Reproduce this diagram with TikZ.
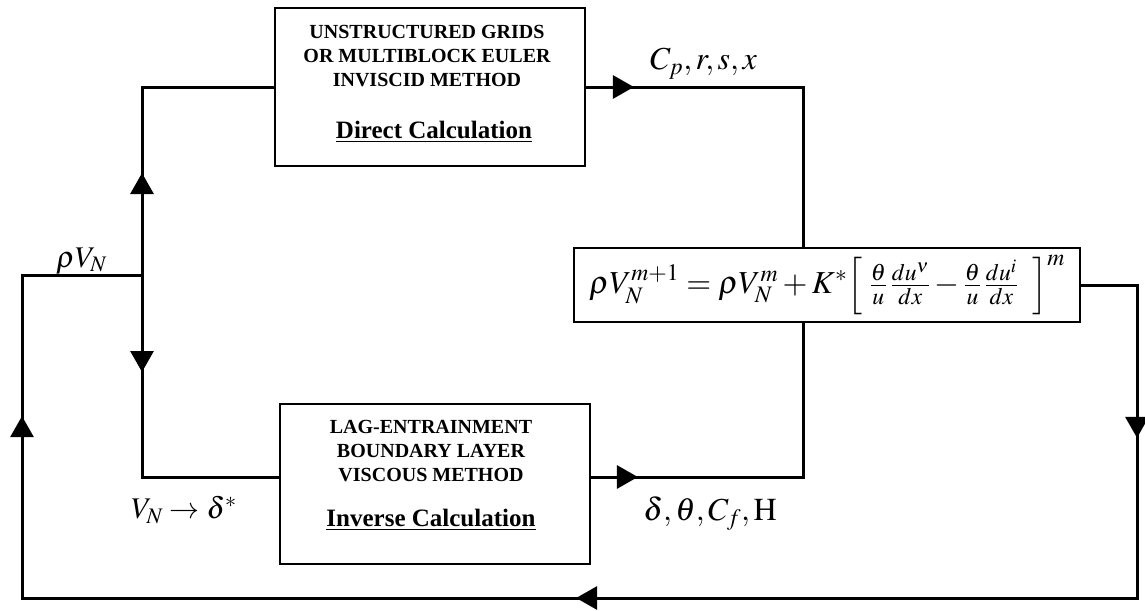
\documentclass[tikz,border=0pt]{standalone}
\usepackage{mathptmx}
\usepackage{fontspec}
\setmainfont{Liberation Serif}
\usetikzlibrary{arrows.meta,decorations.markings}
\tikzset{
  conn/.style={line width=3pt, line join=miter},
  boxnode/.style={draw, line width=1.8pt, minimum width=310pt, minimum height=160pt, inner sep=0pt},
  headtext/.style={font=\bfseries\fontsize{20}{24}\selectfont, align=center, inner sep=0pt},
  subtext/.style={font=\bfseries\fontsize{25}{25}\selectfont, inner sep=0pt},
  lbl/.style={font=\fontsize{32}{32}\selectfont, inner sep=0pt},
  tipmark/.style={postaction={decorate},decoration={markings,mark=at position #1 with {\arrow{Triangle[length=21pt,width=23pt]}}}},
}
\begin{document}
\begin{tikzpicture}[x=1pt,y=-1pt]
\useasboundingbox (0,0) rectangle (1145,610);
% boxes
\node[boxnode, minimum height=158pt] (direct) at (430,87) {};
\node[boxnode] (inverse) at (435,484) {};
\node[draw, line width=1.8pt, minimum width=506pt, minimum height=74pt, inner sep=0pt,
      font=\fontsize{32}{32}\selectfont] (formula) at (827,285)
  {$\rho V_N^{m+1} = \rho V_N^m + K^*\!\left[\;\frac{\theta}{u}\,\frac{du^\nu}{dx} - \frac{\theta}{u}\,\frac{du^i}{dx}\;\;\right]^m$};
% box texts
\node[headtext] (dt) at (427,56) {UNSTRUCTURED GRIDS\\OR MULTIBLOCK EULER\\INVISCID METHOD};
\node[subtext] (dc) at (434,132) {\underline{Direct Calculation}};
\node[headtext] (it) at (431,451) {LAG-ENTRAINMENT\\BOUNDARY LAYER\\VISCOUS METHOD};
\node[subtext] (ic) at (431,520) {\underline{Inverse Calculation}};
% junction coordinates
\coordinate (L) at (142,275);
\coordinate (jl) at (142,477);
\coordinate (tr) at (803,87);
\coordinate (mr) at (803,477);
\coordinate (rt) at (1137,285);
\coordinate (br) at (1137,598);
\coordinate (bl) at (22,598);
\coordinate (ol) at (22,275);
% connectors
\draw[conn, tipmark=102pt] (L) -- (L |- direct.west) -- (direct.west);
\draw[conn, tipmark=97pt] (L) -- (jl) -- (jl -| inverse.west);
\draw[conn, tipmark=48pt] (direct.east) -- (tr) -- (tr |- formula.north);
\draw[conn, tipmark=47pt] (jl -| inverse.east) -- (mr) -- (mr |- formula.south);
\draw[conn, postaction={decorate}, decoration={markings,
    mark=at position 209pt with {\arrow{Triangle[length=21pt,width=23pt]}},
    mark=at position 930pt with {\arrow{Triangle[length=21pt,width=23pt]}},
    mark=at position 1666pt with {\arrow{Triangle[length=21pt,width=23pt]}}}]
  (formula.east) -- (rt) -- (br) -- (bl) -- (ol) -- (L);
% labels
\node[lbl, font=\fontsize{30}{30}\selectfont, anchor=base west] (rv) at (56,267) {$\rho V_N$};
\node[lbl, anchor=base west] (cp) at (650,70) {$C_p, r, s, x$};
\node[lbl] (dtc) at (710,514) {$\delta, \theta, C_f, \mathrm{H}$};
\node[lbl, font=\fontsize{30}{30}\selectfont] (vn) at (184,510) {$V_N \rightarrow \delta^*$};
\end{tikzpicture}
\end{document}
